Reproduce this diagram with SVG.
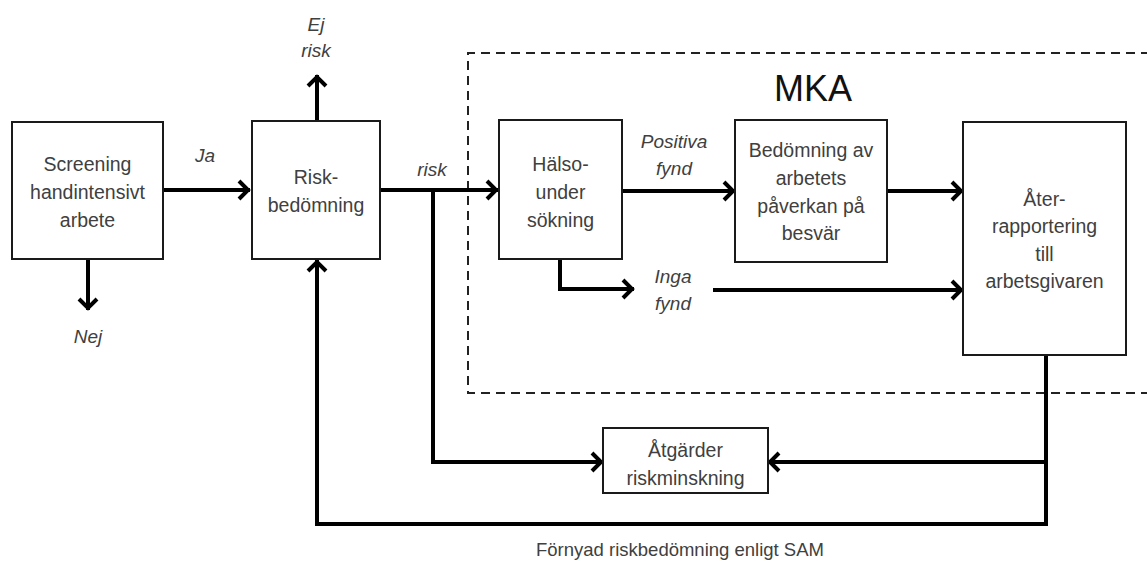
<svg xmlns="http://www.w3.org/2000/svg" width="1147" height="562" viewBox="0 0 1147 562">
<defs>
<style>
.box{fill:#fff;stroke:#1a1a1a;stroke-width:2}
.t{font-family:"Liberation Sans",Arial,sans-serif;font-size:19.5px;fill:#404040;text-anchor:middle}
.l{font-family:"Liberation Sans",Arial,sans-serif;font-size:19px;font-style:italic;fill:#404040;text-anchor:middle}
.c{fill:none;stroke:#000;stroke-width:4}
</style>
<marker id="ah" viewBox="-16 -12 18 24" refX="0" refY="0" markerWidth="18" markerHeight="24" markerUnits="userSpaceOnUse" orient="auto">
<path d="M-11,-9 L-2,0 L-11,9" fill="none" stroke="#000" stroke-width="4"/>
</marker>
</defs>
<rect width="1147" height="562" fill="#fff"/>
<g id="mka">
<path d="M1150,53 H468 V393 H1150" fill="none" stroke="#222" stroke-width="2" stroke-dasharray="9 6"/>
<text x="813" y="101" style="font-family:'Liberation Sans',Arial,sans-serif;font-size:36px;fill:#111;text-anchor:middle">MKA</text>
</g>
<g id="connectors">
<path class="c" d="M163,190 H250" marker-end="url(#ah)"/>
<path class="c" d="M88,259 V310" marker-end="url(#ah)"/>
<path class="c" d="M317,121 V75" marker-end="url(#ah)"/>
<path class="c" d="M380,190 H498" marker-end="url(#ah)"/>
<path class="c" d="M433,190 V462 H603" marker-end="url(#ah)"/>
<path class="c" d="M622,191 H735" marker-end="url(#ah)"/>
<path class="c" d="M887,191 H963" marker-end="url(#ah)"/>
<path class="c" d="M560,259 V289 H634" marker-end="url(#ah)"/>
<path class="c" d="M713,290 H963" marker-end="url(#ah)"/>
<path class="c" d="M1046,355 V524 H317 V260" marker-end="url(#ah)"/>
<path class="c" d="M1046,462 H768" marker-end="url(#ah)"/>
</g>
<g id="labels">
<text class="l" x="205" y="162">Ja</text>
<text class="l" x="88" y="343">Nej</text>
<text class="l" x="316" y="31">Ej</text>
<text class="l" x="316" y="57">risk</text>
<text class="l" x="432" y="176">risk</text>
<text class="l" x="674" y="148">Positiva</text>
<text class="l" x="674" y="175">fynd</text>
<text class="l" x="673" y="283">Inga</text>
<text class="l" x="673" y="310">fynd</text>
<text class="t" x="680" y="556" style="font-size:18.5px">Förnyad riskbedömning enligt SAM</text>
</g>
<g id="screening">
<rect class="box" x="12" y="122" width="151" height="137"/>
<text class="t" x="87.5" y="171">Screening</text>
<text class="t" x="87.5" y="199">handintensivt</text>
<text class="t" x="87.5" y="227">arbete</text>
</g>
<g id="riskbedomning">
<rect class="box" x="252" y="121" width="128" height="138"/>
<text class="t" x="316" y="184">Risk-</text>
<text class="t" x="316" y="212">bedömning</text>
</g>
<g id="halsoundersokning">
<rect class="box" x="499" y="120" width="123" height="139"/>
<text class="t" x="560.5" y="171">Hälso-</text>
<text class="t" x="560.5" y="199">under</text>
<text class="t" x="560.5" y="227">sökning</text>
</g>
<g id="bedomning">
<rect class="box" x="735" y="120" width="152" height="142"/>
<text class="t" x="811" y="157">Bedömning av</text>
<text class="t" x="811" y="185">arbetets</text>
<text class="t" x="811" y="213">påverkan på</text>
<text class="t" x="811" y="240">besvär</text>
</g>
<g id="aterrapportering">
<rect class="box" x="963" y="122" width="163" height="233"/>
<text class="t" x="1044.5" y="206">Åter-</text>
<text class="t" x="1044.5" y="233">rapportering</text>
<text class="t" x="1044.5" y="261">till</text>
<text class="t" x="1044.5" y="288">arbetsgivaren</text>
</g>
<g id="atgarder">
<rect class="box" x="603" y="428" width="165" height="65"/>
<text class="t" x="685.5" y="457">Åtgärder</text>
<text class="t" x="685.5" y="485">riskminskning</text>
</g>
</svg>
